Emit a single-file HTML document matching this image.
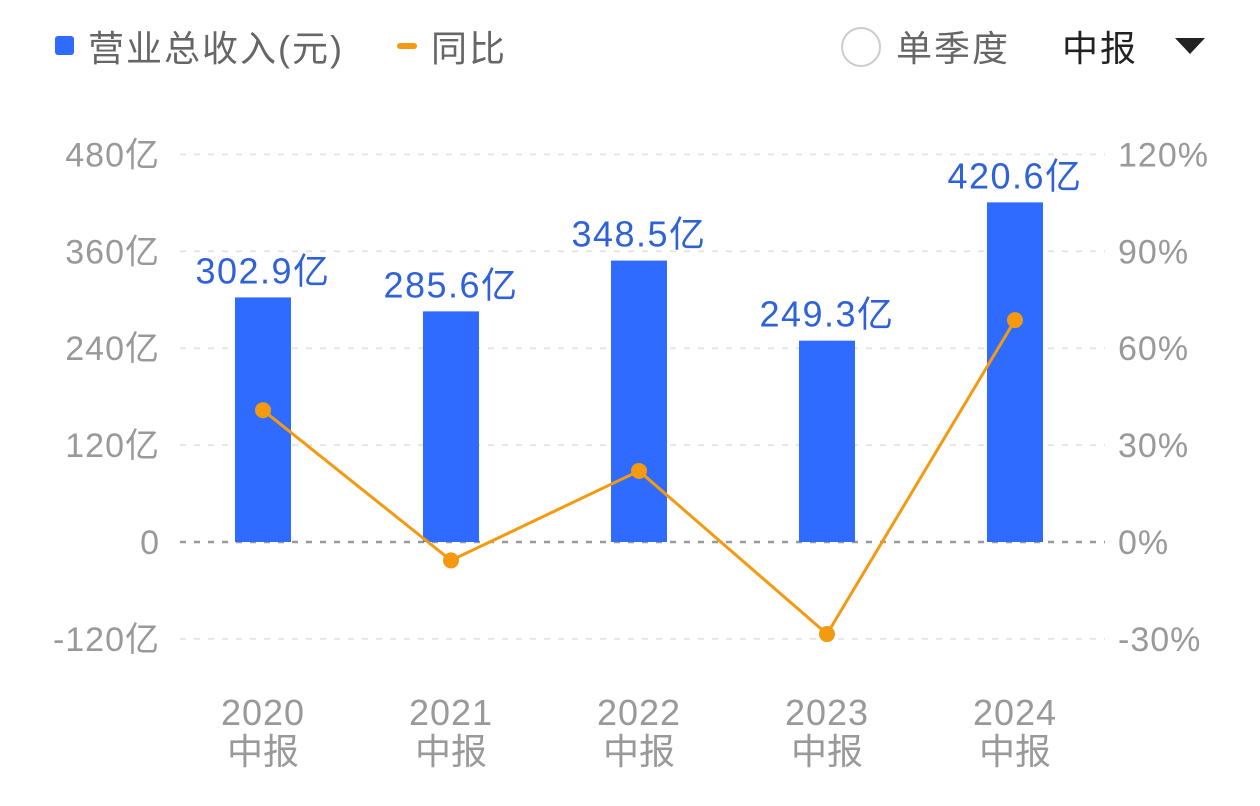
<!DOCTYPE html>
<html><head><meta charset="utf-8">
<style>
html,body{margin:0;padding:0;background:#fff;}
body{width:1260px;height:801px;overflow:hidden;font-family:"Liberation Sans","Noto Sans CJK SC",sans-serif;}
svg text{font-family:"Liberation Sans","Noto Sans CJK SC",sans-serif;}
</style></head>
<body>
<svg id="chart" width="1260" height="801">
  <g>
    <rect x="55" y="36" width="19" height="19" rx="3" fill="#2f6bff"/>
    <text x="88" y="61" font-size="36" fill="#666" letter-spacing="2">营业总收入(元)</text>
    <rect x="397" y="43" width="20" height="6" rx="3" fill="#f39a11"/>
    <text x="431" y="61" font-size="36" fill="#666" letter-spacing="2">同比</text>
  </g>
  <g>
    <circle cx="861" cy="47" r="19" fill="#fff" stroke="#ccc" stroke-width="2"/>
    <text x="896" y="61" font-size="36" fill="#666" letter-spacing="2">单季度</text>
  </g>
  <g>
    <text x="1062" y="61" font-size="36" fill="#222" letter-spacing="2">中报</text>
    <path d="M1175 38 L1205 38 L1190 54 Z" fill="#222"/>
  </g>
  <g id="grid"></g>
  <g id="bars"></g>
  <g id="line"></g>
  <g id="labels"></g>
</svg>
<script>
const categories=["2020","2021","2022","2023","2024"];
const revenue=[302.9,285.6,348.5,249.3,420.6];
const yoy=[40.8,-5.7,22.0,-28.5,68.7];
const leftTicks=[480,360,240,120,0,-120];
const rightTicks=[120,90,60,30,0,-30];

const NS="http://www.w3.org/2000/svg";
const y0=542, step=96.9;
function yL(v){return y0-v*(step/120);}
function yR(v){return y0-v*(step/30);}
function xC(i){return 263+i*188;}
function mk(tag,attrs,parent){const e=document.createElementNS(NS,tag);for(const k in attrs)e.setAttribute(k,attrs[k]);parent.appendChild(e);return e;}
const grid=document.getElementById('grid'),bars=document.getElementById('bars'),line=document.getElementById('line'),labels=document.getElementById('labels');

leftTicks.forEach((t,i)=>{
  const y=yL(t);
  const l=mk('line',{x1:180,x2:1105,y1:y,y2:y,stroke:t===0?'#999':'#e6e6e6','stroke-width':t===0?2.5:2,'stroke-dasharray':'6 8'},grid);
  
  
  const tx=mk('text',{x:160,y:y+12,'font-size':34,fill:'#999','text-anchor':'end','letter-spacing':1},grid);
  tx.textContent=t===0?'0':t+'亿';
  
  
  const r=rightTicks[i];
  const tr=mk('text',{x:1118,y:yR(r)+12,'font-size':34,fill:'#999','letter-spacing':1},grid);
  tr.textContent=r+'%';
  
  
});

categories.forEach((c,i)=>{
  const x=xC(i);
  const b=mk('rect',{x:x-28,y:yL(revenue[i]),width:56,height:y0-yL(revenue[i]),fill:'#2f6bff'},bars);
  
  
  const v=mk('text',{x:x,y:yL(revenue[i])-14,'font-size':36,fill:'#2f62d9','text-anchor':'middle','letter-spacing':1.5},labels);
  v.textContent=revenue[i].toFixed(1)+'亿';
  
  
  const a=mk('text',{x:x,y:725,'font-size':36,fill:'#999','text-anchor':'middle','letter-spacing':1},labels);
  a.textContent=c;
  
  
  const b2=mk('text',{x:x,y:764,'font-size':36,fill:'#999','text-anchor':'middle'},labels);
  b2.textContent='中报';
  
  
});

const pts=yoy.map((v,i)=>xC(i)+','+yR(v)).join(' ');
const pl=mk('polyline',{points:pts,fill:'none',stroke:'#f39a11','stroke-width':3},line);


yoy.forEach((v,i)=>{
  const p=mk('circle',{cx:xC(i),cy:yR(v),r:8,fill:'#f39a11'},line);
  
  
});
</script>
</body></html>
